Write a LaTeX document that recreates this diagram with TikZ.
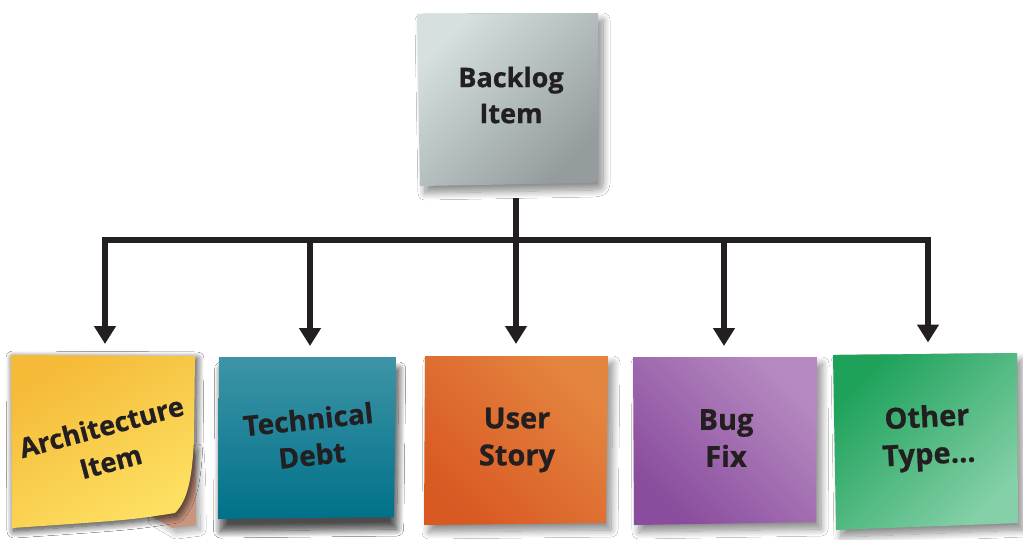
\documentclass[tikz,border=0pt]{standalone}
\usepackage{fontspec}
\setmainfont[BoldFeatures={FakeBold=0.8}]{Open Sans}
\usetikzlibrary{arrows.meta,calc,shadows.blur}

\definecolor{ink}{HTML}{231F20}
\definecolor{greyA}{HTML}{D6E0E1}
\definecolor{greyB}{HTML}{949C9D}
\definecolor{yelA}{HTML}{F5BA38}
\definecolor{yelB}{HTML}{FDE062}
\definecolor{tealA}{HTML}{3E94A6}
\definecolor{tealB}{HTML}{00718A}
\definecolor{orgA}{HTML}{E4853F}
\definecolor{orgB}{HTML}{D95923}
\definecolor{purA}{HTML}{B68AC1}
\definecolor{purB}{HTML}{8A4C9D}
\definecolor{grnA}{HTML}{1EA25A}
\definecolor{grnB}{HTML}{85D0A8}
\definecolor{curl}{HTML}{C8957F}

\begin{document}
\begin{tikzpicture}[x=1pt,y=-1pt,
  spot/.style 2 args={rectangle, inner sep=0pt, outer sep=0pt,
    minimum width=#1, minimum height=#2},
  paper/.style={blur shadow={shadow xshift=5pt, shadow yshift=-7pt,
    shadow blur radius=7pt, shadow blur steps=12, shadow opacity=45}},
  caption/.style={text=ink, align=center, inner sep=0pt},
  conn/.style={draw=ink, line width=6.5pt, line join=miter,
    -{Triangle[width=21pt,length=18pt]}}
]
\useasboundingbox (0,0) rectangle (1023,539);
\fill[white] (0,0) rectangle (1023,539);

% sticky-note papers
\shade[paper, top color=greyA, bottom color=greyB, shading angle=45]
  (417,14) -- (598,13) -- (598,176) .. controls (597,182) .. (588,183)
  -- (420,186) -- cycle;

% yellow note with its lifted corner and the shadow beneath it
\fill[curl, blur shadow={shadow xshift=4pt, shadow yshift=-5pt,
    shadow blur radius=6pt, shadow blur steps=10, shadow opacity=35}]
  (194,445) .. controls (196,480) .. (196,525) -- (172,528) -- (150,515)
  -- (170,470) -- cycle;
\shade[paper, blur shadow={shadow xshift=2pt, shadow yshift=-3pt},
    top color=yelA, bottom color=yelB, shading angle=30]
  (11,355) -- (195,356) -- (194,440)
  .. controls (192,478) and (188,500) .. (175,513)
  .. controls (130,520) .. (12,528) -- cycle;

\shade[paper, blur shadow={shadow yshift=-12pt}, top color=tealA, bottom color=tealB]
  (219,357) -- (396,357) -- (394,517) -- (218,519) -- cycle;
\shade[paper, top color=orgA, bottom color=orgB, shading angle=-45]
  (425,356) -- (608,356) -- (606,523) -- (424,525) -- cycle;
\shade[paper, top color=purA, bottom color=purB, shading angle=-45]
  (633,357) -- (817,357) -- (816,522) -- (634,525) -- cycle;
\shade[paper, top color=grnA, bottom color=grnB, shading angle=45]
  (833,355) -- (1017,353) -- (1018,523) -- (836,530) -- cycle;

% anchors for the five notes and the root
\node[spot={182pt}{172pt}] (backlog) at (508,99) {};
\node[spot={184pt}{173pt}] (arch) at (105,441.5) {};
\node[spot={177pt}{162pt}] (tech) at (310,438) {};
\node[spot={183pt}{169pt}] (user) at (516,440.5) {};
\node[spot={184pt}{168pt}] (bug) at (724,441) {};
\node[spot={185pt}{176pt}] (other) at (928,441.5) {};

% labels
\node[caption, font=\bfseries\fontsize{27}{36}\selectfont] (backlog-text)
  at (511,95) {Backlog\\Item};
\node[caption, font=\bfseries\fontsize{27}{36}\selectfont, rotate=15] (arch-text)
  at (106,444) {Architecture\\Item};
\node[caption, font=\bfseries\fontsize{28}{36}\selectfont, rotate=6] (tech-text)
  at (310,437) {Technical\\Debt};
\node[caption, font=\bfseries\fontsize{29}{37}\selectfont] (user-text)
  at (517,440) {User\\Story};
\node[caption, font=\bfseries\fontsize{29}{37}\selectfont] (bug-text)
  at (726,438) {Bug\\Fix};
\node[caption, font=\bfseries\fontsize{29}{37}\selectfont, rotate=3] (other-text)
  at (928,438) {Other\\Type...};

% tree connectors
\coordinate (split) at (user.north |- 0,240);
\draw[conn] ($(backlog.south -| user.north)+(0,13)$) -- ([yshift=12pt]user.north);
\draw[conn] (split) -| ([yshift=11pt]arch.north);
\draw[conn] (split) -| ([yshift=11pt]other.north);
\draw[conn] (tech.north |- split) -- ([yshift=11pt]tech.north);
\draw[conn] (bug.north |- split) -- ([yshift=11pt]bug.north);
\end{tikzpicture}
\end{document}
